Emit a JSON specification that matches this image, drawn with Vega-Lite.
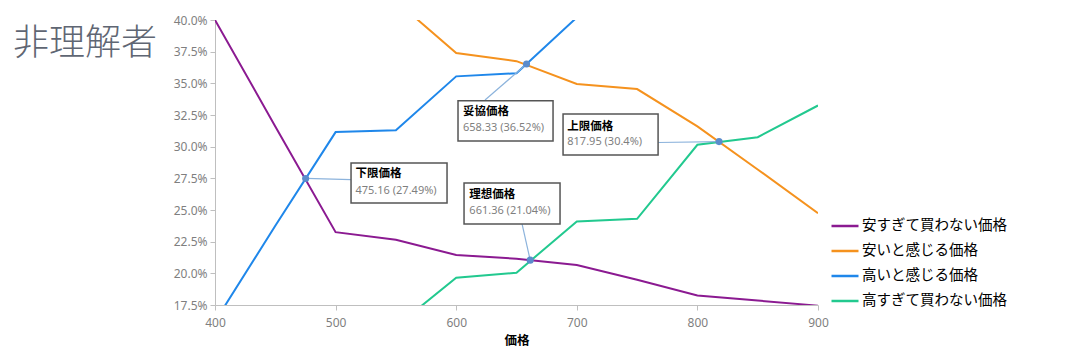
{
  "$schema": "https://vega.github.io/schema/vega-lite/v6.json",
  "autosize": "none",
  "width": 603,
  "height": 285,
  "padding": {"left": 215, "top": 20, "right": 273, "bottom": 47},
  "background": "white",
  "title": {
    "text": "非理解者",
    "anchor": "start",
    "frame": "group",
    "font": "Noto Sans CJK JP",
    "fontSize": 36,
    "fontWeight": 300,
    "color": "#5f6673",
    "baseline": "middle",
    "offset": 0,
    "dx": -202,
    "dy": 66
  },
  "config": {
    "view": {"stroke": null},
    "font": "Noto Sans CJK JP",
    "axis": {"labelOverlap": false, "labelFlush": false}
  },
  "datasets": {
    "series": [
      {"price": 400, "series": "安すぎて買わない価格", "pct": 0.400},
      {"price": 450, "series": "安すぎて買わない価格", "pct": 0.316},
      {"price": 500, "series": "安すぎて買わない価格", "pct": 0.2325},
      {"price": 550, "series": "安すぎて買わない価格", "pct": 0.2265},
      {"price": 600, "series": "安すぎて買わない価格", "pct": 0.2145},
      {"price": 650, "series": "安すぎて買わない価格", "pct": 0.2115},
      {"price": 700, "series": "安すぎて買わない価格", "pct": 0.2065},
      {"price": 750, "series": "安すぎて買わない価格", "pct": 0.195},
      {"price": 800, "series": "安すぎて買わない価格", "pct": 0.1825},
      {"price": 850, "series": "安すぎて買わない価格", "pct": 0.1785},
      {"price": 900, "series": "安すぎて買わない価格", "pct": 0.1745},
      {"price": 400, "series": "安いと感じる価格", "pct": 0.55},
      {"price": 450, "series": "安いと感じる価格", "pct": 0.50},
      {"price": 500, "series": "安いと感じる価格", "pct": 0.46},
      {"price": 550, "series": "安いと感じる価格", "pct": 0.415},
      {"price": 600, "series": "安いと感じる価格", "pct": 0.374},
      {"price": 650, "series": "安いと感じる価格", "pct": 0.3675},
      {"price": 700, "series": "安いと感じる価格", "pct": 0.3495},
      {"price": 750, "series": "安いと感じる価格", "pct": 0.3455},
      {"price": 800, "series": "安いと感じる価格", "pct": 0.316},
      {"price": 850, "series": "安いと感じる価格", "pct": 0.282},
      {"price": 900, "series": "安いと感じる価格", "pct": 0.2475},
      {"price": 400, "series": "高いと感じる価格", "pct": 0.162},
      {"price": 450, "series": "高いと感じる価格", "pct": 0.2375},
      {"price": 500, "series": "高いと感じる価格", "pct": 0.3115},
      {"price": 550, "series": "高いと感じる価格", "pct": 0.313},
      {"price": 600, "series": "高いと感じる価格", "pct": 0.3555},
      {"price": 650, "series": "高いと感じる価格", "pct": 0.358},
      {"price": 700, "series": "高いと感じる価格", "pct": 0.402},
      {"price": 750, "series": "高いと感じる価格", "pct": 0.43},
      {"price": 800, "series": "高いと感じる価格", "pct": 0.46},
      {"price": 850, "series": "高いと感じる価格", "pct": 0.48},
      {"price": 900, "series": "高いと感じる価格", "pct": 0.50},
      {"price": 400, "series": "高すぎて買わない価格", "pct": 0.10},
      {"price": 450, "series": "高すぎて買わない価格", "pct": 0.12},
      {"price": 500, "series": "高すぎて買わない価格", "pct": 0.135},
      {"price": 550, "series": "高すぎて買わない価格", "pct": 0.158},
      {"price": 600, "series": "高すぎて買わない価格", "pct": 0.1965},
      {"price": 650, "series": "高すぎて買わない価格", "pct": 0.2005},
      {"price": 700, "series": "高すぎて買わない価格", "pct": 0.241},
      {"price": 750, "series": "高すぎて買わない価格", "pct": 0.243},
      {"price": 800, "series": "高すぎて買わない価格", "pct": 0.3015},
      {"price": 850, "series": "高すぎて買わない価格", "pct": 0.3075},
      {"price": 900, "series": "高すぎて買わない価格", "pct": 0.3325}
    ],
    "callouts": [
      {"name": "下限価格", "label": "475.16 (27.49%)", "price": 475.16, "pct": 0.2749, "lx": 512.8, "ly": 0.274, "bx1": 512.8, "bx2": 592.4, "by1": 0.2871, "by2": 0.2556, "tx": 516.5, "ty1": 0.2785, "ty2": 0.2650},
      {"name": "妥協価格", "label": "658.33 (36.52%)", "price": 658.33, "pct": 0.3652, "lx": 623.9, "ly": 0.3369, "bx1": 601.5, "bx2": 680.3, "by1": 0.3363, "by2": 0.3045, "tx": 605.6, "ty1": 0.3271, "ty2": 0.3145},
      {"name": "上限価格", "label": "817.95 (30.4%)", "price": 817.95, "pct": 0.304, "lx": 767.4, "ly": 0.3033, "bx1": 688.6, "bx2": 767.4, "by1": 0.3258, "by2": 0.2934, "tx": 692.1, "ty1": 0.3158, "ty2": 0.3035},
      {"name": "理想価格", "label": "661.36 (21.04%)", "price": 661.36, "pct": 0.2104, "lx": 654.6, "ly": 0.239, "bx1": 606.5, "bx2": 686.1, "by1": 0.2713, "by2": 0.239, "tx": 610.9, "ty1": 0.2619, "ty2": 0.2493}
    ]
  },
  "layer": [
    {
      "data": {"name": "series"},
      "mark": {"type": "line", "clip": true, "strokeWidth": 2},
      "encoding": {
        "x": {
          "field": "price", "type": "quantitative",
          "scale": {"domain": [400, 900], "nice": false, "zero": false},
          "axis": {
            "title": "価格", "values": [400, 500, 600, 700, 800, 900], "tickCount": 12, "format": "d",
            "grid": false, "domainColor": "#bfbfbf", "tickColor": "#bfbfbf", "tickSize": 5,
            "labelColor": "#7f7f7f", "labelFont": "Noto Sans", "labelFontSize": 12, "labelPadding": 7,
            "labelFlush": false, "labelOverlap": false,
            "titleFont": "Noto Sans CJK JP", "titleFontSize": 12.5, "titleFontWeight": "bold", "titleColor": "#000000", "titlePadding": 6
          }
        },
        "y": {
          "field": "pct", "type": "quantitative",
          "scale": {"domain": [0.175, 0.4], "nice": false, "zero": false},
          "axis": {
            "title": null, "values": [0.175, 0.2, 0.225, 0.25, 0.275, 0.3, 0.325, 0.35, 0.375, 0.4], "tickCount": 12, "format": ".1%",
            "grid": false, "domainColor": "#bfbfbf", "tickColor": "#bfbfbf", "tickSize": 5,
            "labelColor": "#7f7f7f", "labelFont": "Noto Sans", "labelFontSize": 12, "labelPadding": 3,
            "labelFlush": false, "labelOverlap": false
          }
        },
        "color": {
          "field": "series", "type": "nominal",
          "scale": {
            "domain": ["安すぎて買わない価格", "安いと感じる価格", "高いと感じる価格", "高すぎて買わない価格"],
            "range": ["#8b1a91", "#f5921e", "#1f87ea", "#22c98f"]
          },
          "legend": {
            "title": null, "orient": "none", "legendX": 615, "legendY": 191,
            "symbolType": "stroke", "symbolSize": 729, "symbolStrokeWidth": 2.5,
            "labelFont": "Noto Sans CJK JP", "labelFontSize": 14.5, "labelColor": "#000000",
            "labelOffset": 2, "rowPadding": 3, "padding": 0, "labelLimit": 300
          }
        }
      }
    },
    {
      "data": {"name": "callouts"},
      "mark": {"type": "rule", "color": "#8cb3dc", "strokeWidth": 1.2},
      "encoding": {
        "x": {"field": "price", "type": "quantitative", "axis": {"title": "価格", "labelOverlap": false, "labelFlush": false}},
        "y": {"field": "pct", "type": "quantitative", "axis": {"title": null, "labelOverlap": false, "labelFlush": false}},
        "x2": {"field": "lx"},
        "y2": {"field": "ly"}
      }
    },
    {
      "data": {"name": "callouts"},
      "mark": {"type": "circle", "size": 50, "color": "#5b8ccc", "opacity": 1},
      "encoding": {
        "x": {"field": "price", "type": "quantitative", "axis": {"title": "価格", "labelOverlap": false, "labelFlush": false}},
        "y": {"field": "pct", "type": "quantitative", "axis": {"title": null, "labelOverlap": false, "labelFlush": false}}
      }
    },
    {
      "data": {"name": "callouts"},
      "mark": {"type": "rect", "fill": "white", "stroke": "#555555", "strokeWidth": 1.5},
      "encoding": {
        "x": {"field": "bx1", "type": "quantitative", "axis": {"title": "価格", "labelOverlap": false, "labelFlush": false}},
        "x2": {"field": "bx2"},
        "y": {"field": "by1", "type": "quantitative", "axis": {"title": null, "labelOverlap": false, "labelFlush": false}},
        "y2": {"field": "by2"}
      }
    },
    {
      "data": {"name": "callouts"},
      "mark": {"type": "text", "align": "left", "baseline": "middle", "font": "Noto Sans CJK JP", "fontSize": 11.5, "fontWeight": "bold", "color": "#000000"},
      "encoding": {
        "x": {"field": "tx", "type": "quantitative", "axis": {"title": "価格", "labelOverlap": false, "labelFlush": false}},
        "y": {"field": "ty1", "type": "quantitative", "axis": {"title": null, "labelOverlap": false, "labelFlush": false}},
        "text": {"field": "name"}
      }
    },
    {
      "data": {"name": "callouts"},
      "mark": {"type": "text", "align": "left", "baseline": "middle", "font": "Noto Sans", "fontSize": 11, "color": "#7f7f7f"},
      "encoding": {
        "x": {"field": "tx", "type": "quantitative", "axis": {"title": "価格", "labelOverlap": false, "labelFlush": false}},
        "y": {"field": "ty2", "type": "quantitative", "axis": {"title": null, "labelOverlap": false, "labelFlush": false}},
        "text": {"field": "label"}
      }
    }
  ]
}
